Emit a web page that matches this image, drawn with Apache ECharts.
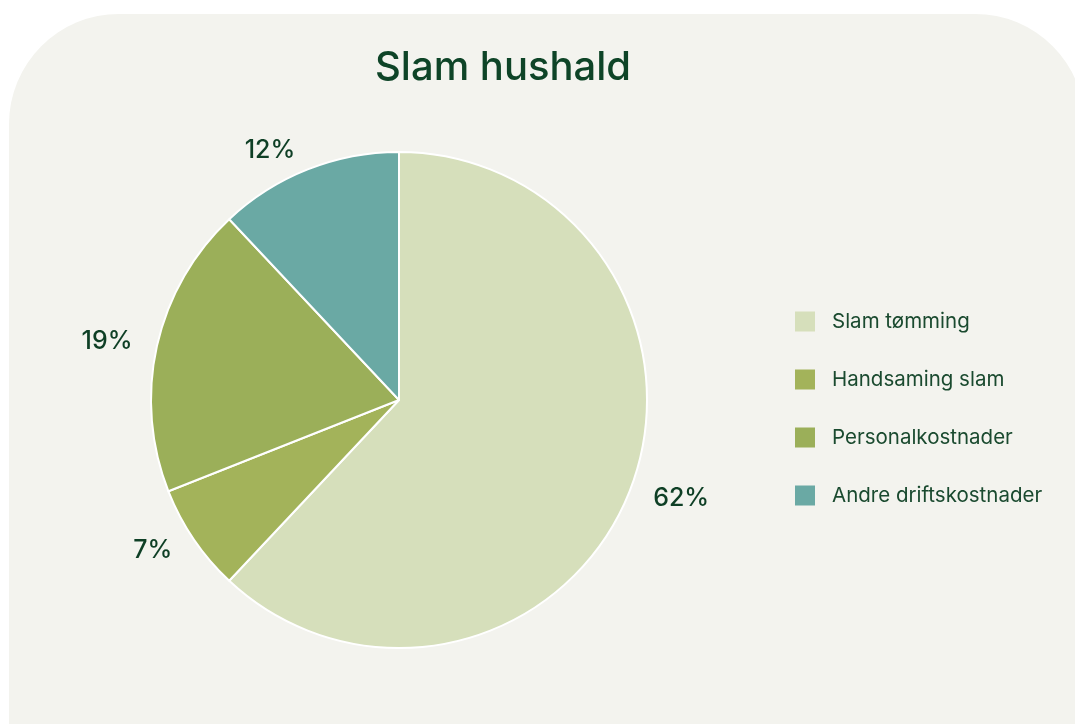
<!DOCTYPE html>
<html lang="no">
<head>
    <meta charset="UTF-8">
    <title>Slam hushald</title>
    <style>
        html, body { margin: 0; padding: 0; background: #ffffff; overflow: hidden; }
        #card {
            position: absolute; left: 9px; top: 14px; width: 1076px; height: 800px;
            background: #f3f3ee; border-radius: 110px 110px 0 0;
        }
        #main { position: absolute; left: 0; top: 0; width: 1075px; height: 724px; }
    </style>
</head>
<body>
<div id="card"></div>
<div id="main"></div>
<script src="https://cdn.jsdelivr.net/npm/echarts@6/dist/echarts.min.js"></script>
<script type="text/javascript">
  var categories = ['Slam tømming', 'Handsaming slam', 'Personalkostnader', 'Andre driftskostnader'];
  var values = [62, 7, 19, 12];
  var colors = ['#d6dfbb', '#a3b35a', '#9baf59', '#6aa9a4'];

  var myChart = echarts.init(document.getElementById('main'));
  var option = {
    backgroundColor: 'transparent',
    animation: false,
    title: {
      text: 'Slam hushald',
      left: 370,
      top: 43,
      textStyle: {
        fontFamily: 'Inter',
        fontSize: 40,
        fontWeight: 500,
        color: '#0e4427'
      }
    },
    legend: {
      orient: 'vertical',
      left: 790,
      top: 306,
      icon: 'rect',
      itemWidth: 20,
      itemHeight: 20,
      itemGap: 37,
      itemStyle: { borderWidth: 0 },
      data: categories,
      textStyle: {
        fontFamily: 'Inter',
        fontSize: 20.5,
        color: '#1a4a2f',
        padding: [0, 0, 0, 12]
      }
    },
    color: colors,
    series: [
      {
        type: 'pie',
        center: [399, 400],
        radius: 248,
        startAngle: 90,
        clockwise: true,
        itemStyle: {
          borderColor: '#ffffff',
          borderWidth: 2
        },
        label: {
          show: true,
          position: 'outside',
          formatter: '{c}%',
          distanceToLabelLine: 5,
          fontFamily: 'Inter',
          fontSize: 25,
          fontWeight: 500,
          color: '#0e3f25'
        },
        labelLine: {
          show: false,
          length: 20,
          length2: 0
        },
        emphasis: { disabled: true },
        data: categories.map(function (name, i) {
          return { name: name, value: values[i] };
        })
      }
    ]
  };
  myChart.setOption(option);
</script>
</body>
</html>
